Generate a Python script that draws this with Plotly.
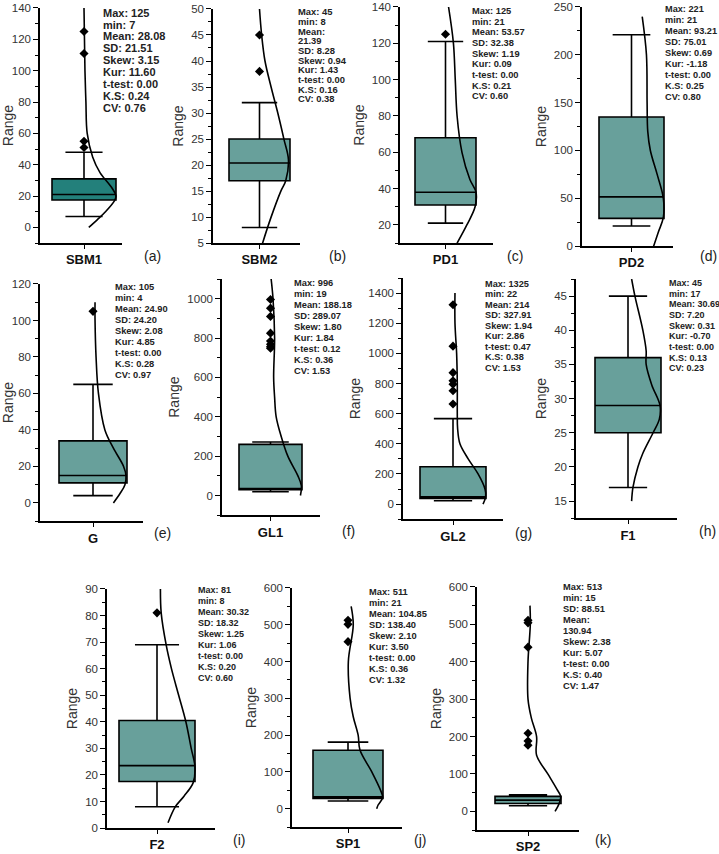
import plotly.graph_objects as go

W, H = 719, 854

# ---------------- data ----------------
names = ["SBM1", "SBM2", "PD1", "PD2", "G", "GL1", "GL2", "F1", "F2", "SP1", "SP2"]
letters = ["(a)", "(b)", "(c)", "(d)", "(e)", "(f)", "(g)", "(h)", "(i)", "(j)", "(k)"]

q1 = [17.5, 17, 31, 29, 11, 30, 37, 25, 17.5, 28, 21]
median = [21, 20.4, 38, 51.5, 15, 35, 48, 29, 23.5, 32, 30]
q3 = [31, 25, 68, 135, 34, 260, 248, 36, 40.5, 159, 40]
lower = [7, 8, 21, 21, 4, 19, 22, 17, 8, 21, 15]
upper = [48, 32, 121, 221, 65, 272, 567, 45, 69, 181, 44]

outliers = [
    [125, 111, 55, 51],
    [45, 38],
    [125],
    [],
    [105],
    [996, 952, 910, 825, 785, 768, 756, 748],
    [1323, 1048, 872, 818, 796, 752, 664],
    [],
    [81],
    [512, 501, 454],
    [511, 504, 439, 209, 188, 177],
]

# distribution curves: value (y) and relative width (0 = box centre, 1 = box edge)
curve_y = [
    [140, 100, 80, 60, 45, 35, 25, 20, 17, 10, 5, 0],
    [50, 45, 40, 35, 30, 25, 21, 17, 15, 10, 5],
    [140, 120, 100, 80, 60, 45, 38, 30, 20, 10],
    [240, 200, 150, 120, 100, 75, 50, 30, 15, 0],
    [110, 100, 80, 60, 40, 30, 20, 15, 10, 5, 0],
    [1100, 1000, 800, 600, 500, 400, 300, 200, 100, 50, 0],
    [1400, 1200, 1000, 800, 600, 500, 400, 300, 200, 100, 50, 0],
    [47.5, 45, 40, 37, 35, 32, 29, 27, 25, 22, 20, 17, 15],
    [90, 81, 69, 60, 50, 40, 30, 23, 17, 12, 8, 2],
    [550, 500, 400, 300, 250, 200, 160, 100, 50, 30, 10, 0],
    [550, 500, 400, 300, 250, 200, 150, 100, 60, 40, 20, 0],
]
curve_w = [
    [0, 0.03, 0.06, 0.1, 0.27, 0.5, 0.88, 1.0, 0.95, 0.67, 0.42, 0.15],
    [0, 0.07, 0.18, 0.38, 0.6, 0.8, 0.95, 0.86, 0.7, 0.38, 0.1],
    [0.1, 0.26, 0.32, 0.38, 0.54, 0.8, 1.0, 0.97, 0.7, 0.38],
    [0.33, 0.46, 0.48, 0.5, 0.58, 0.79, 0.98, 0.98, 0.83, 0.68],
    [0.06, 0.06, 0.09, 0.16, 0.35, 0.6, 0.9, 0.97, 0.94, 0.79, 0.6],
    [0.02, 0.08, 0.13, 0.1, 0.13, 0.18, 0.34, 0.55, 0.87, 0.98, 0.95],
    [0.06, 0.06, 0.11, 0.13, 0.13, 0.14, 0.21, 0.46, 0.76, 0.97, 0.99, 0.91],
    [0.11, 0.21, 0.45, 0.55, 0.55, 0.72, 0.97, 0.95, 0.76, 0.45, 0.3, 0.15, 0.11],
    [0.09, 0.11, 0.24, 0.38, 0.57, 0.76, 0.9, 1.0, 0.95, 0.71, 0.48, 0.29],
    [0.09, 0.15, 0.01, 0.06, 0.15, 0.29, 0.34, 0.68, 0.93, 0.99, 0.86, 0.82],
    [0.06, 0.07, 0.0, 0.0, 0.1, 0.26, 0.26, 0.6, 0.87, 0.99, 0.94, 0.82],
]

stats = [
    ["Max: 125", "min: 7", "Mean: 28.08", "SD: 21.51", "Skew: 3.15", "Kur: 11.60", "t-test: 0.00", "K.S: 0.24", "CV: 0.76"],
    ["Max: 45", "min: 8", "Mean:", "21.39", "SD: 8.28", "Skew: 0.94", "Kur: 1.43", "t-test: 0.00", "K.S: 0.16", "CV: 0.38"],
    ["Max: 125", "min: 21", "Mean: 53.57", "SD: 32.38", "Skew: 1.19", "Kur: 0.09", "t-test: 0.00", "K.S: 0.21", "CV: 0.60"],
    ["Max: 221", "min: 21", "Mean: 93.21", "SD: 75.01", "Skew: 0.69", "Kur: -1.18", "t-test: 0.00", "K.S: 0.25", "CV: 0.80"],
    ["Max: 105", "min: 4", "Mean: 24.90", "SD: 24.20", "Skew: 2.08", "Kur: 4.85", "t-test: 0.00", "K.S: 0.28", "CV: 0.97"],
    ["Max: 996", "min: 19", "Mean: 188.18", "SD: 289.07", "Skew: 1.80", "Kur: 1.84", "t-test: 0.12", "K.S: 0.36", "CV: 1.53"],
    ["Max: 1325", "min: 22", "Mean: 214", "SD: 327.91", "Skew: 1.94", "Kur: 2.86", "t-test: 0.47", "K.S: 0.38", "CV: 1.53"],
    ["Max: 45", "min: 17", "Mean: 30.69", "SD: 7.20", "Skew: 0.31", "Kur: -0.70", "t-test: 0.00", "K.S: 0.13", "CV: 0.23"],
    ["Max: 81", "min: 8", "Mean: 30.32", "SD: 18.32", "Skew: 1.25", "Kur: 1.06", "t-test: 0.00", "K.S: 0.20", "CV: 0.60"],
    ["Max: 511", "min: 21", "Mean: 104.85", "SD: 138.40", "Skew: 2.10", "Kur: 3.50", "t-test: 0.00", "K.S: 0.36", "CV: 1.32"],
    ["Max: 513", "min: 15", "SD: 88.51", "Mean:", "130.94", "Skew: 2.38", "Kur: 5.07", "t-test: 0.00", "K.S: 0.40", "CV: 1.47"],
]

# ---------------- layout geometry (pixels) ----------------
# L, R: x-axis line ends; top, bot: y-axis extent; c, h: box centre and half width
geom = [
    dict(L=40, R=122, top=8, bot=244, c=84, h=32, yr=(-10, 140), dt=20, mdt=10),
    dict(L=213, R=300, top=9, bot=244, c=259.5, h=30.5, yr=(5, 50), dt=5, mdt=2.5),
    dict(L=400, R=493, top=7, bot=244, c=445.5, h=30.5, yr=(10, 140), dt=20, mdt=10),
    dict(L=582, R=673, top=7, bot=247, c=631.5, h=32.5, yr=(0, 250), dt=50, mdt=25),
    dict(L=40, R=143, top=285, bot=523, c=93, h=34, yr=(-10, 120), dt=20, mdt=10),
    dict(L=222, R=320, top=280, bot=517, c=270.5, h=31.5, yr=(-100, 1100), dt=200, mdt=100),
    dict(L=403, R=503, top=279, bot=521, c=453, h=33, yr=(-100, 1500), dt=200, mdt=100),
    dict(L=576, R=677, top=280, bot=520, c=628, h=33, yr=(12.5, 47.5), dt=5, mdt=2.5),
    dict(L=107, R=215, top=591, bot=831, c=157, h=38, yr=(0, 90), dt=10, mdt=5),
    dict(L=292, R=402, top=590, bot=830, c=348, h=35, yr=(-50, 600), dt=100, mdt=50),
    dict(L=477, R=579, top=589, bot=833, c=528, h=33, yr=(-50, 600), dt=100, mdt=50),
]
stat_pos = [
    (101, 12.7, 11.9, 11), (296, 12, 9.7, 9.4), (470, 11, 10.7, 9.3), (663, 9.5, 11, 9.2),
    (113, 288, 11, 9.3), (292, 283.5, 11.1, 9.3), (483, 285, 10.5, 9.2), (667, 284, 10.7, 9),
    (196, 592, 11, 9), (367, 594, 11, 9.3), (561, 589, 11.1, 9.3),
]
letter_pos = [(152, 257), (337, 257), (515, 257), (708, 257),
              (162, 535), (348, 533), (523, 535), (707, 533),
              (239, 843), (420, 843), (603, 843)]

box_colors = ["#23807b"] + ["#68a09b"] * 10

fig = go.Figure()
layout = dict(
    width=W, height=H, margin=dict(l=0, r=0, t=0, b=0),
    paper_bgcolor="white", plot_bgcolor="white", showlegend=False,
    font=dict(family="Liberation Sans, Arial, sans-serif", color="#222"),
)
annotations = []

for i, g in enumerate(geom):
    n = i + 1
    xa = "x" if n == 1 else f"x{n}"
    ya = "y" if n == 1 else f"y{n}"
    xk = "xaxis" if n == 1 else f"xaxis{n}"
    yk = "yaxis" if n == 1 else f"yaxis{n}"

    fig.add_trace(go.Box(
        x=[0], q1=[q1[i]], median=[median[i]], q3=[q3[i]],
        lowerfence=[lower[i]], upperfence=[upper[i]],
        width=2, whiskerwidth=0.58, boxpoints=False,
        fillcolor=box_colors[i], line=dict(color="black", width=1.6),
        xaxis=xa, yaxis=ya, hoverinfo="skip",
    ))
    fig.add_trace(go.Scatter(
        x=curve_w[i], y=curve_y[i], mode="lines",
        line=dict(color="black", width=1.6, shape="spline", smoothing=1.0),
        xaxis=xa, yaxis=ya, hoverinfo="skip",
    ))
    if outliers[i]:
        fig.add_trace(go.Scatter(
            x=[0] * len(outliers[i]), y=outliers[i], mode="markers",
            marker=dict(symbol="diamond", size=7, color="black"),
            xaxis=xa, yaxis=ya, hoverinfo="skip",
        ))

    xr = ((g["L"] - g["c"]) / g["h"], (g["R"] - g["c"]) / g["h"])
    layout[xk] = dict(
        domain=[g["L"] / W, g["R"] / W], range=list(xr), anchor=ya,
        showline=True, linecolor="black", linewidth=1.5, showgrid=False, zeroline=False,
        ticks="outside", ticklen=4, tickcolor="black", tickwidth=1.2,
        tickvals=[0], ticktext=[f"<b>{names[i]}</b>"],
        tickfont=dict(size=13, color="#111"), fixedrange=True,
    )
    layout[yk] = dict(
        domain=[1 - g["bot"] / H, 1 - g["top"] / H], range=list(g["yr"]), anchor=xa,
        showline=True, linecolor="black", linewidth=1.5, showgrid=False, zeroline=False,
        ticks="outside", ticklen=5, tickcolor="black", tickwidth=1.2,
        tick0=0, dtick=g["dt"],
        minor=dict(ticks="outside", ticklen=3, dtick=g["mdt"], tick0=0, tickcolor="black", showgrid=False),
        tickfont=dict(size=11.5, color="#333"),
        title=dict(text="Range", font=dict(size=14, color="#333"), standoff=4),
        automargin=False, fixedrange=True,
    )

    sx, sy, sp, fs = stat_pos[i]
    for k, line in enumerate(stats[i]):
        annotations.append(dict(
            x=sx / W, y=1 - (sy + k * sp) / H, xref="paper", yref="paper",
            text=f"<b>{line}</b>", showarrow=False, xanchor="left", yanchor="middle",
            font=dict(size=fs, color="#222"),
        ))
    lx, ly = letter_pos[i]
    annotations.append(dict(
        x=lx / W, y=1 - ly / H, xref="paper", yref="paper", text=letters[i],
        showarrow=False, xanchor="center", yanchor="middle",
        font=dict(size=14, color="#222"),
    ))

layout["annotations"] = annotations
fig.update_layout(**layout)
fig.write_html(
    "out.html",
    config={"displayModeBar": False},
    post_script="document.body.style.margin='0';document.body.style.padding='0';document.body.style.overflow='hidden';",
)
